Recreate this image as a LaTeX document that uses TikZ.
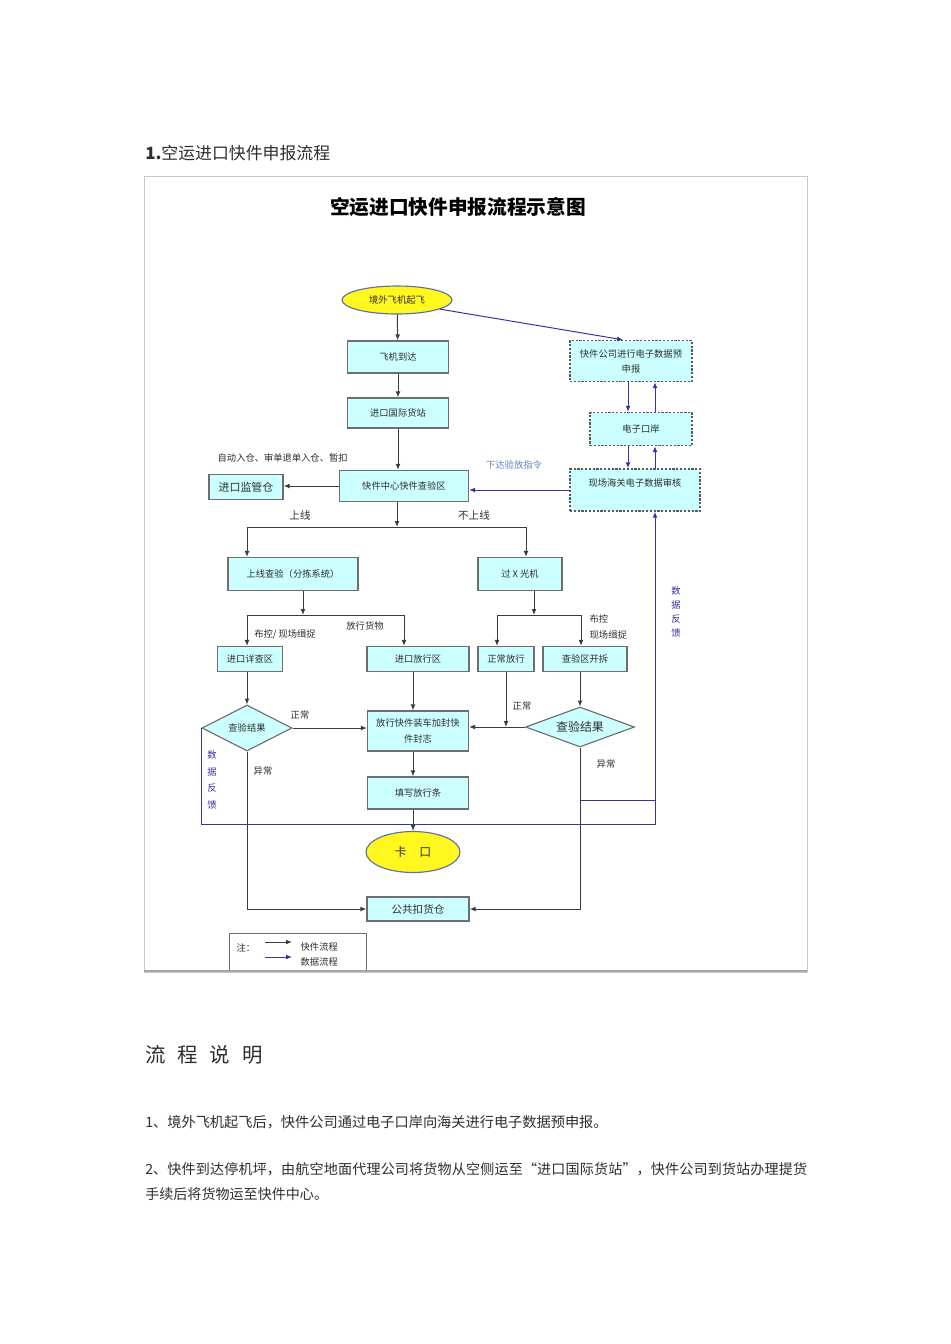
\documentclass[tikz,border=0pt]{standalone}
\usepackage{fontspec}
\setmainfont{Noto Sans CJK SC}
\XeTeXlinebreaklocale "zh"
\XeTeXlinebreakskip=0pt plus 1pt
\usetikzlibrary{arrows.meta,positioning,calc,shapes.geometric}
\definecolor{cyanfill}{HTML}{CCFFFF}
\definecolor{edge}{HTML}{6E6E6E}
\definecolor{dashgray}{HTML}{5A5A5A}
\definecolor{wire}{HTML}{3C3C3C}
\definecolor{navy}{HTML}{35359C}
\definecolor{skyblue}{HTML}{6A7FC2}
\definecolor{sun}{HTML}{FFF71E}
\definecolor{rim}{HTML}{5F6FA6}
\definecolor{ink}{HTML}{2E2E2E}
\definecolor{framegray}{HTML}{C8C8C8}
\newcommand{\Px}{0.025cm}
\newcommand{\boxfont}{\fontsize{6.6pt}{8pt}\selectfont}

\begin{document}
\begin{tikzpicture}[x=\Px, y=-\Px, font=\boxfont, text=ink,
    stage/.style={draw=edge, line width=0.9pt, fill=cyanfill, align=center, inner sep=1pt, minimum height=31*\Px},
    ebox/.style={stage, draw=dashgray, line width=1pt, dash pattern=on 1.6pt off 1.1pt},
    check/.style={diamond, draw=edge, line width=0.8pt, fill=cyanfill, inner sep=0pt},
    endpt/.style={ellipse, draw=rim, line width=0.8pt, fill=sun, inner sep=0pt},
    link/.style={line width=0.7pt, draw=wire},
    flow/.style={link, -{Latex[length=4.2pt,width=3.4pt]}},
    datal/.style={line width=0.7pt, draw=navy},
    data/.style={datal, -{Latex[length=4.2pt,width=3.4pt]}},
    note/.style={font=\boxfont, inner sep=1pt},
    bignote/.style={font=\fontsize{7.5pt}{9pt}\selectfont, inner sep=1pt},
    vnote/.style={note, text=navy, align=center},
  ]
% --- Page and frame ------------------------------------------------------------
\fill[white] (0,0) rectangle (950,1344);
\useasboundingbox (0,0) rectangle (950,1344);
\draw[framegray, line width=0.6pt] (144,176) rectangle (807,972);
\draw[gray!70, line width=1.3pt] (144,971) -- (807,971);

\node[anchor=west, inner sep=0pt, font=\fontsize{12pt}{14pt}\selectfont] (heading) at (145,153) {\textbf{1.}空运进口快件申报流程};
\node[inner sep=0pt, text=black, font=\fontsize{14pt}{16pt}\selectfont\bfseries] (title) at (458,207) {空运进口快件申报流程示意图};

% --- Goods flow ------------------------------------------------------------------
\node[endpt, minimum width=110*\Px, minimum height=28*\Px] (takeoff) at (397,300) {境外飞机起飞};
\node[stage, minimum width=101*\Px, minimum height=32*\Px] (arrive) at (398,357) {飞机到达};
\node[stage, minimum width=101*\Px, minimum height=30*\Px] (station) at (398,413) {进口国际货站};
\node[stage, minimum width=129*\Px] (hub) at (404,486) {快件中心快件查验区};
\node[stage, minimum width=74*\Px, minimum height=25*\Px, font=\fontsize{7.8pt}{9pt}\selectfont] (bonded) at (246,487) {进口监管仓};
\node[stage, minimum width=130*\Px, minimum height=33*\Px] (online) at (293,574) {上线查验（分拣系统）};
\node[stage, minimum width=84*\Px, minimum height=33*\Px] (xray) at (520,574) {过 X 光机};
\node[stage, minimum width=65*\Px, minimum height=25*\Px] (detail) at (250,659) {进口详查区};
\node[stage, minimum width=102*\Px, minimum height=25*\Px] (release) at (418,659) {进口放行区};
\node[stage, minimum width=56*\Px, minimum height=25*\Px] (passed) at (506,659) {正常放行};
\node[stage, minimum width=84*\Px, minimum height=25*\Px] (opened) at (585,659) {查验区开拆};
\node[check, aspect=2, minimum width=90*\Px, minimum height=46*\Px] (resL) at (247,728) {查验结果};
\node[check, aspect=2.7, minimum width=109*\Px, minimum height=40*\Px, font=\fontsize{8.5pt}{10pt}\selectfont] (resR) at (580,727) {查验结果};
\node[stage, minimum width=101*\Px, minimum height=40*\Px, font=\fontsize{6.6pt}{11.4pt}\selectfont] (seal) at (418,731) {放行快件装车加封快\\件封志};
\node[stage, minimum width=101*\Px, minimum height=32*\Px] (slip) at (418,793) {填写放行条};
\node[endpt, minimum width=94*\Px, minimum height=41*\Px, font=\fontsize{8.5pt}{10pt}\selectfont] (gate) at (413,852) {卡\hspace{9pt}口};
\node[stage, minimum width=102*\Px, minimum height=24*\Px, font=\fontsize{7.5pt}{9pt}\selectfont] (hold) at (418,909) {公共扣货仓};

% --- Data flow (dashed boxes) ----------------------------------------------------
\node[ebox, minimum width=122*\Px, minimum height=41*\Px, font=\fontsize{6.6pt}{10.7pt}\selectfont] (predecl) at (631,361) {快件公司进行电子数据预\\申报};
\node[ebox, minimum width=102*\Px, minimum height=33*\Px] (eport) at (641,429) {电子口岸};
\node[ebox, minimum width=130*\Px, minimum height=42*\Px, text height=6pt, text depth=11.4pt] (customs) at (635,490) {现场海关电子数据审核};

% --- Labels ----------------------------------------------------------------------
\node[note, anchor=west] (autoin) at (216,458) {自动入仓、审单退单入仓、暂扣};
\node[bignote] (onl) at (300,515) {上线};
\node[bignote] (offl) at (474,515) {不上线};
\node[note] (ctlL) at (285,634) {布控/ 现场缉捉};
\node[note] (goods) at (365,626) {放行货物};
\node[note, anchor=west] (ctlR) at (588,619) {布控};
\node[note, anchor=west] (catchR) at (588,635) {现场缉捉};
\node[note] (okL) at (300,715) {正常};
\node[note] (badL) at (263,771) {异常};
\node[note] (okR) at (522,706) {正常};
\node[note] (badR) at (606,764) {异常};
\node[note, text=skyblue] (order) at (514,465) {下达验放指令};
\node[vnote, font=\fontsize{6.6pt}{11.7pt}\selectfont] (fbL) at (212,780) {数\\据\\反\\馈};
\node[vnote, font=\fontsize{6.6pt}{10pt}\selectfont] (fbR) at (676,612) {数\\据\\反\\馈};

% --- Junctions -------------------------------------------------------------------
\coordinate (splitA) at (397,527);
\coordinate (splitAL) at (247,527);
\coordinate (splitAR) at (526,527);
\coordinate (splitB) at (303,615);
\coordinate (splitBL) at (247,615);
\coordinate (splitBR) at (404,615);
\coordinate (splitC) at (534,615);
\coordinate (splitCL) at (497,615);
\coordinate (splitCR) at (581,615);
\coordinate (downx) at (628,0);
\coordinate (upx) at (655,0);
\coordinate (loop) at (655,824);
\coordinate (tapR) at (580,800);

% --- Goods arrows ----------------------------------------------------------------
\draw[flow] (takeoff) -- (arrive);
\draw[flow] (arrive) -- (station);
\draw[flow] (station.south) -- (station.south |- hub.north);
\draw[flow] (hub.west) -- (hub.west -| bonded.east);
\draw[flow] (hub.south -| splitA) -- (splitA);
\draw[link] (splitAL) -- (splitAR);
\draw[flow] (splitAL) -- (splitAL |- online.north);
\draw[flow] (splitAR) -- (splitAR |- xray.north);
\draw[flow] (online.south -| splitB) -- (splitB);
\draw[link] (splitBL) -- (splitBR);
\draw[flow] (splitBL) -- (splitBL |- detail.north);
\draw[flow] (splitBR) -- (splitBR |- release.north);
\draw[flow] (xray.south -| splitC) -- (splitC);
\draw[link] (splitCL) -- (splitCR);
\draw[flow] (splitCL) -- (splitCL |- passed.north);
\draw[flow] (splitCR) -- (splitCR |- opened.north);
\draw[flow] (detail.south -| resL) -- (resL.north);
\draw[flow] (opened.south -| resR) -- (resR.north);
\draw[flow] (resL.east) -- (resL.east -| seal.west);
\draw[flow] (resR.west) -- (resR.west -| seal.east);
\draw[flow] (passed.south) -- (passed.south |- resR.west);
\draw[flow] (release.south -| gate) -- (seal.north -| gate);
\draw[flow] (seal.south -| gate) -- (slip.north -| gate);
\draw[flow] (slip.south -| gate) -- (gate.north);
\draw[flow] (resL.south) |- (hold.west);
\draw[flow] (resR.south) |- (hold.east);

% --- Data arrows -----------------------------------------------------------------
\draw[data] (takeoff.-12) -- ($(predecl.north)+(-8,0)$);
\draw[data] (predecl.south -| downx) -- (eport.north -| downx);
\draw[data] (eport.north -| upx) -- (predecl.south -| upx);
\draw[data] (eport.south -| downx) -- (customs.north -| downx);
\draw[data] (customs.north -| upx) -- (eport.south -| upx);
\draw[data] (customs.west) -- (customs.west -| hub.east);
\draw[data] (resL.west) |- (loop) -- (loop |- customs.south);
\draw[datal] (tapR) -- (tapR -| loop);

% --- Legend ----------------------------------------------------------------------
\draw[edge, line width=0.7pt] (229,970) |- (366,933) -- (366,970);
\node[note, anchor=west] (notehd) at (235,948) {注：};
\coordinate (lgA) at (265,942);
\coordinate (lgB) at (292,942);
\coordinate (lgC) at (265,957);
\coordinate (lgD) at (292,957);
\draw[flow] (lgA) -- (lgB);
\draw[data] (lgC) -- (lgD);
\node[note, anchor=west] (lgflow) at (299,947) {快件流程};
\node[note, anchor=west] (lgdata) at (299,962) {数据流程};

% --- Explanation -----------------------------------------------------------------
\node[anchor=west, inner sep=0pt, font=\fontsize{14.5pt}{16pt}\selectfont] (explain) at (145,1055) {流\hspace{8.5pt}程\hspace{8.5pt}说\hspace{8.5pt}明};
\node[anchor=north west, inner sep=0pt, text width=662*\Px, align=left, font=\fontsize{10.1pt}{17.8pt}\selectfont] (step1) at (145,1115) {\noindent 1、境外飞机起飞后，快件公司通过电子口岸向海关进行电子数据预申报。};
\node[anchor=north west, inner sep=0pt, text width=662*\Px, align=justify, font=\fontsize{10pt}{17.8pt}\selectfont] (step2) at (145,1162) {\noindent 2、快件到达停机坪，由航空地面代理公司将货物从空侧运至“进口国际货站”，快件公司到货站办理提货\linebreak 手续后将货物运至快件中心。};
\end{tikzpicture}
\end{document}
